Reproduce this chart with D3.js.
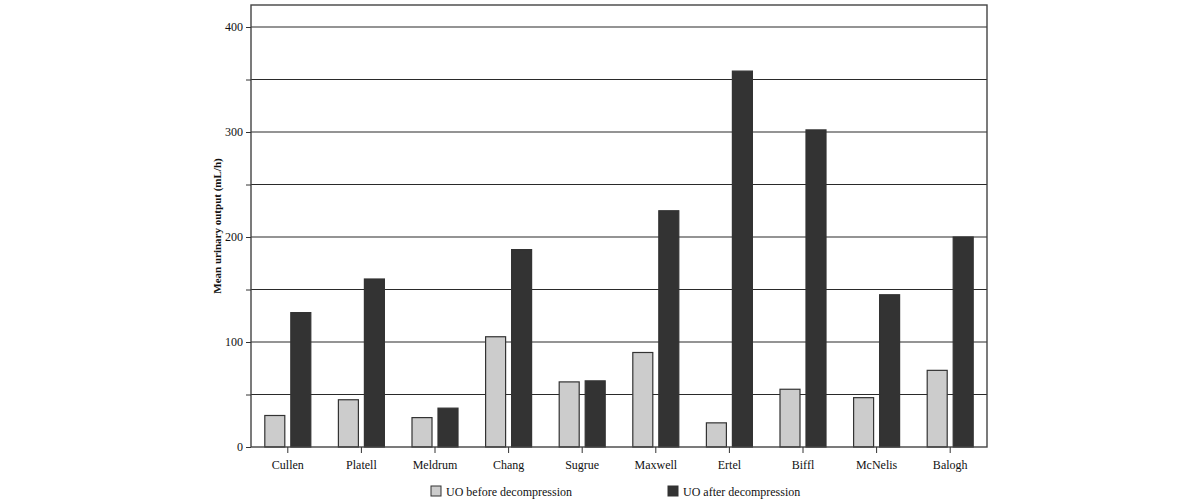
<!DOCTYPE html>
<html>
<head>
<meta charset="utf-8">
<script src="https://cdn.jsdelivr.net/npm/d3@7"></script>
<style>
  body { margin: 0; background: #fff; }
  svg { font-family: "Liberation Serif", "Times New Roman", serif; }
</style>
</head>
<body>
<svg id="chart" width="1200" height="502"></svg>
<script>
const studies = ['Cullen', 'Platell', 'Meldrum', 'Chang', 'Sugrue', 'Maxwell', 'Ertel', 'Biffl', 'McNelis', 'Balogh']
const uoBefore = [30, 45, 28, 105, 62, 90, 23, 55, 47, 73]
const uoAfter = [128, 160, 37, 188, 63, 225, 358, 302, 145, 200]
const seriesNames = ['UO before decompression', 'UO after decompression']
const yTicks = [0, 100, 200, 300, 400]
const gridValues = [50, 100, 150, 200, 250, 300, 350, 400]

const svg = d3.select('#chart')
const plotL = 251, plotR = 987, plotT = 5, plotB = 447

let x = d3.scaleBand().domain(studies).range([plotL, plotR])
let y = d3.scaleLinear().domain([0, 400]).range([plotB, 27])
let colors = ['#cccccc', '#333333']

// gridlines
svg.append('g')
  .selectAll('line')
  .data(gridValues)
  .join('line')
    .attr('x1', plotL).attr('x2', plotR)
    .attr('y1', d => y(d)).attr('y2', d => y(d))
    .attr('stroke', '#2a2a2a')
    .attr('stroke-width', 1.2)

// bars
let rows = studies.map((s, i) => ({ s, vals: [uoBefore[i], uoAfter[i]] }))
const barW = 20
const offsets = [-23, 3]
svg.append('g')
  .selectAll('g')
  .data(rows)
  .join('g')
  .selectAll('rect')
  .data(d => d.vals.map((v, k) => ({ s: d.s, v, k })))
  .join('rect')
    .attr('x', d => x(d.s) + x.bandwidth() / 2 + offsets[d.k])
    .attr('y', d => y(d.v))
    .attr('width', barW)
    .attr('height', d => plotB - y(d.v))
    .attr('fill', d => colors[d.k])
    .attr('stroke', '#333')
    .attr('stroke-width', 1.2)

// frame
svg.append('rect')
  .attr('x', plotL).attr('y', plotT)
  .attr('width', plotR - plotL).attr('height', plotB - plotT)
  .attr('fill', 'none')
  .attr('stroke', '#444')
  .attr('stroke-width', 1.4)

// y axis
let yAxis = d3.axisLeft(y).tickValues(gridValues.concat([0])).tickSize(5).tickSizeOuter(0)
  .tickFormat(d => yTicks.includes(d) ? d : '')
let yg = svg.append('g').attr('transform', `translate(${plotL},0)`).call(yAxis)
yg.select('.domain').remove()
yg.selectAll('line').attr('stroke', '#333')
yg.selectAll('text').attr('font-size', 12).attr('fill', '#111')
  .attr('font-family', '"Liberation Serif", serif')

// x axis
let xAxis = d3.axisBottom(x).tickSize(6).tickSizeOuter(0)
let xg = svg.append('g').attr('transform', `translate(0,${plotB})`).call(xAxis)
xg.select('.domain').remove()
xg.selectAll('line').attr('stroke', '#333')
xg.selectAll('text').attr('font-size', 12).attr('fill', '#111').attr('dy', '1.1em')
  .attr('font-family', '"Liberation Serif", serif')

// y label
svg.append('text')
  .attr('transform', `translate(221,${(plotT + plotB) / 2}) rotate(-90)`)
  .attr('text-anchor', 'middle')
  .attr('font-size', 11)
  .attr('font-weight', 'bold')
  .attr('fill', '#111')
  .text('Mean urinary output (mL/h)')

// legend
const legendX = [431, 668]
let lg = svg.append('g')
  .selectAll('g')
  .data(seriesNames)
  .join('g')
    .attr('transform', (d, i) => `translate(${legendX[i]},486)`)
lg.append('rect')
  .attr('width', 10).attr('height', 10)
  .attr('fill', (d, i) => colors[i])
  .attr('stroke', '#333')
lg.append('text')
  .attr('x', 15).attr('y', 9.5)
  .attr('font-size', 12)
  .attr('fill', '#111')
  .text(d => d)
</script>
</body>
</html>
